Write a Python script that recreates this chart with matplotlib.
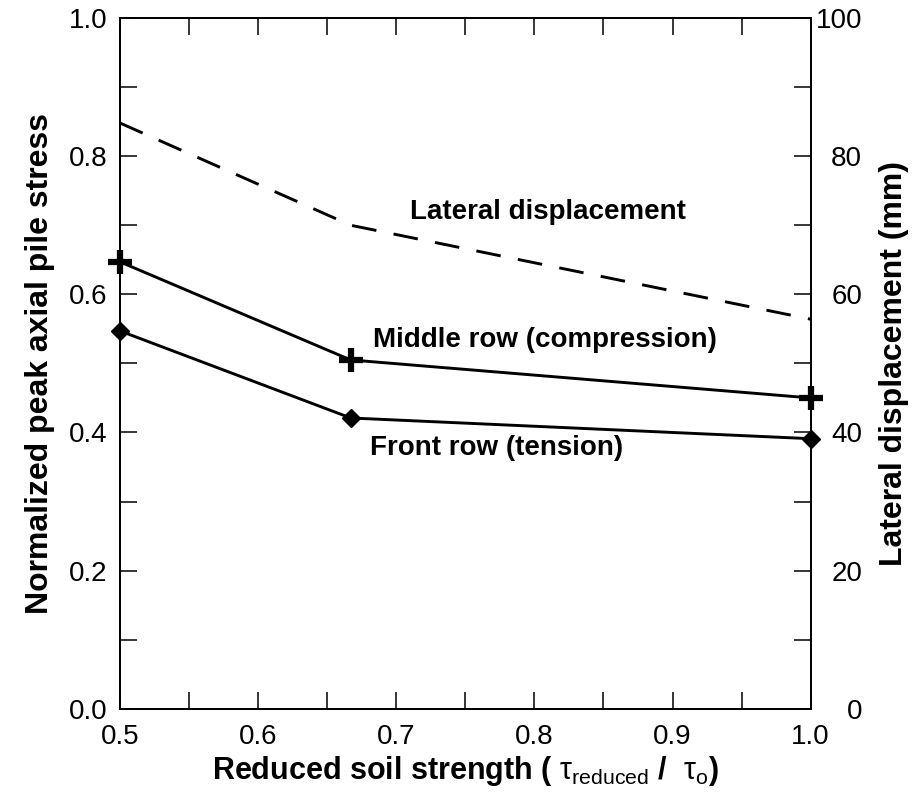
import matplotlib
matplotlib.use('Agg')
import matplotlib.pyplot as plt
from matplotlib.ticker import MultipleLocator

plt.rcParams['font.family'] = ['Liberation Sans', 'DejaVu Sans']
plt.rcParams['mathtext.fontset'] = 'custom'
plt.rcParams['mathtext.rm'] = 'Liberation Sans'
plt.rcParams['mathtext.it'] = 'Liberation Sans'

# data
strength = [0.5, 0.667, 1.0]
middle_row = [0.647, 0.505, 0.45]      # compression
front_row = [0.547, 0.421, 0.391]      # tension
lateral_disp = [84.8, 70.0, 56.4]      # mm, right axis

fig = plt.figure(figsize=(9.16, 8), dpi=100)
ax = fig.add_axes([0.131, 0.114, 0.754, 0.8635])
ax2 = ax.twinx()

ax.plot(strength, middle_row, color='black', lw=2.1, marker='+', ms=17,
        mew=4.5, clip_on=False, zorder=5)
ax.plot(strength, front_row, color='black', lw=2.1, marker='D', ms=9,
        clip_on=False, zorder=5)
ax2.plot(strength, lateral_disp, color='black', lw=2.1, dashes=(8.5, 6))

for a in (ax, ax2):
    a.set_xlim(0.5, 1.0)
    for s in a.spines.values():
        s.set_linewidth(1.3)
ax.set_ylim(0, 1.0)
ax2.set_ylim(0, 100)

ax.xaxis.set_major_locator(MultipleLocator(0.1))
ax.xaxis.set_minor_locator(MultipleLocator(0.05))
ax.yaxis.set_major_locator(MultipleLocator(0.2))
ax.yaxis.set_minor_locator(MultipleLocator(0.1))
ax2.yaxis.set_major_locator(MultipleLocator(20))
ax2.yaxis.set_minor_locator(MultipleLocator(10))

ax.tick_params(which='both', direction='in', length=12, width=1.1,
               top=True, labelsize=20, pad=9)
ax.tick_params(axis='x', pad=11)
ax.tick_params(axis='y', which='both', right=False)
ax2.tick_params(which='both', direction='in', length=12, width=1.1,
                labelsize=20, pad=37)
for lab in ax2.get_yticklabels():
    lab.set_horizontalalignment('right')

ax.xaxis.set_major_formatter(plt.FuncFormatter(lambda v, p: '%.1f' % v))
ax.yaxis.set_major_formatter(plt.FuncFormatter(lambda v, p: '%.1f' % v))

ax.set_xlabel(r'Reduced soil strength ( $\tau_{\mathrm{reduced}}$ /  $\tau_{\mathrm{o}}$)',
              fontsize=22, fontweight='bold', labelpad=3)
ax.set_ylabel('Normalized peak axial pile stress', fontsize=23,
              fontweight='bold', labelpad=10)
ax2.set_ylabel('Lateral displacement (mm)', fontsize=23, fontweight='bold',
               labelpad=12)

ax.text(0.71, 0.719, 'Lateral displacement', fontsize=20, fontweight='bold',
        va='center')
ax.text(0.683, 0.534, 'Middle row (compression)', fontsize=20,
        fontweight='bold', va='center')
ax.text(0.681, 0.378, 'Front row (tension)', fontsize=20, fontweight='bold',
        va='center')

fig.savefig('out.png', dpi=100)
